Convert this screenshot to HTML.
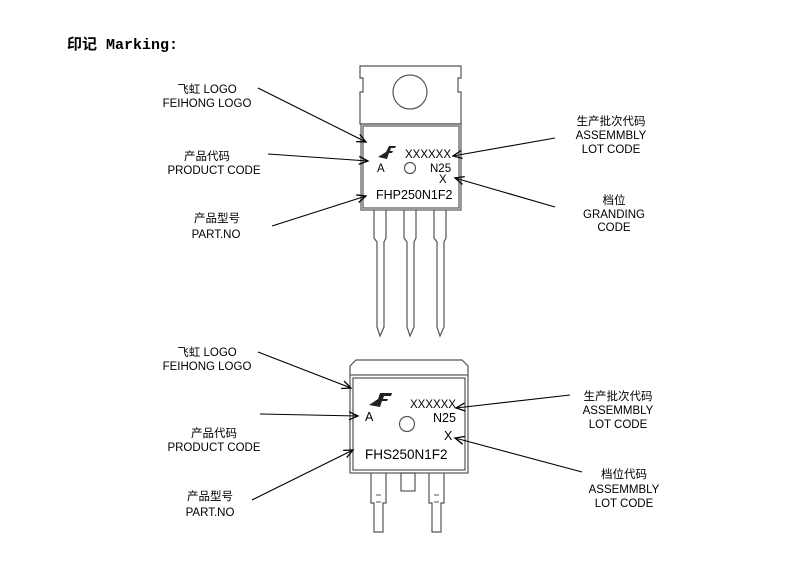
<!DOCTYPE html>
<html><head><style>
body{margin:0;background:#fff;width:812px;height:566px;overflow:hidden}
svg text{font-family:"Liberation Sans","Noto Sans CJK SC",sans-serif;font-size:11.5px;fill:#000}
</style></head><body>
<svg width="812" height="566" viewBox="0 0 812 566" xmlns="http://www.w3.org/2000/svg">
<defs><marker id="a" markerWidth="12" markerHeight="10" refX="10" refY="5" orient="auto" markerUnits="userSpaceOnUse"><path d="M1,1 L10,5 L1,9" fill="none" stroke="#000" stroke-width="1.3"/></marker></defs>
<text x="67" y="49" style="font-family:'Liberation Mono','Noto Sans CJK SC',monospace;font-size:15px;font-weight:bold">印记 Marking:</text>

<!-- TO-220 -->
<g fill="none" stroke="#555" stroke-width="1.2">
<path d="M360,66 H461 V78 H458 V92 H461 V124 H360 V92 H363 V78 H360 Z" fill="#fff"/>
<circle cx="410" cy="92" r="17"/>
<rect x="361" y="124" width="100" height="86"/>
<rect x="363" y="126" width="96" height="82"/>
<path d="M374,210 V238 L377,242 V327 L380,336 L384,327 V242 L386,238 V210"/>
<path d="M404,210 V238 L407,242 V327 L410,336 L414,327 V242 L416,238 V210"/>
<path d="M434,210 V238 L437,242 V327 L440,336 L444,327 V242 L446,238 V210"/>
<circle cx="410" cy="168" r="5.5"/>
</g>
<path d="M378,157 L386,152 L389,146 L396,146 L395,148 L391,148 L390,151 L393,151 L392,153 L389,153 L387,159 Z" fill="#222"/>
<text x="405" y="158">XXXXXX</text>
<text x="377" y="172">A</text>
<text x="430" y="172">N25</text>
<text x="439" y="183">X</text>
<text x="376" y="199" style="font-size:12.5px">FHP250N1F2</text>

<!-- D2PAK -->
<g fill="none" stroke="#555" stroke-width="1.2">
<path d="M350,375 V366 L356,360 H462 L468,366 V375"/>
<rect x="350" y="375" width="118" height="98"/>
<rect x="353" y="378" width="112" height="92"/>
<path d="M371,473 V503 H374 V532 H383 V503 H386 V473"/>
<path d="M429,473 V503 H432 V532 H441 V503 H444 V473"/>
<rect x="401" y="473" width="14" height="18"/>
<circle cx="407" cy="424" r="7.5"/>
</g>
<g stroke="#555" stroke-width="1"><path d="M376,495 H381 M376,502 H381 M434,495 H439 M434,502 H439"/></g>
<path d="M369,405 L378,399 L380,393 L392,393 L391,396 L384,396 L383,399 L388,399 L387,401 L382,401 L380,407 Z" fill="#222"/>
<text x="410" y="408">XXXXXX</text>
<text x="365" y="421" style="font-size:12.5px">A</text>
<text x="433" y="422" style="font-size:12.5px">N25</text>
<text x="444" y="440" style="font-size:12.5px">X</text>
<text x="365" y="459" style="font-size:13.5px">FHS250N1F2</text>

<!-- labels -->
<g text-anchor="middle">
<text x="207" y="93">飞虹 LOGO</text><text x="207" y="107">FEIHONG LOGO</text>
<text x="207" y="160">产品代码</text><text x="214" y="174">PRODUCT CODE</text>
<text x="217" y="222">产品型号</text><text x="216" y="238">PART.NO</text>
<text x="611" y="125">生产批次代码</text><text x="611" y="139">ASSEMMBLY</text><text x="611" y="153">LOT CODE</text>
<text x="614" y="204">档位</text><text x="614" y="218">GRANDING</text><text x="614" y="231">CODE</text>
<text x="207" y="356">飞虹 LOGO</text><text x="207" y="370">FEIHONG LOGO</text>
<text x="214" y="437">产品代码</text><text x="214" y="451">PRODUCT CODE</text>
<text x="210" y="500">产品型号</text><text x="210" y="516">PART.NO</text>
<text x="618" y="400">生产批次代码</text><text x="618" y="414">ASSEMMBLY</text><text x="618" y="428">LOT CODE</text>
<text x="624" y="478">档位代码</text><text x="624" y="493">ASSEMMBLY</text><text x="624" y="507">LOT CODE</text>
</g>
<g stroke="#000" stroke-width="1.1" marker-end="url(#a)">
<line x1="258" y1="88" x2="366" y2="142"/>
<line x1="268" y1="154" x2="368" y2="161"/>
<line x1="272" y1="226" x2="366" y2="196"/>
<line x1="555" y1="138" x2="453" y2="156"/>
<line x1="555" y1="207" x2="455" y2="178"/>
<line x1="258" y1="352" x2="351" y2="388"/>
<line x1="260" y1="414" x2="358" y2="416"/>
<line x1="252" y1="500" x2="353" y2="450"/>
<line x1="570" y1="395" x2="456" y2="408"/>
<line x1="582" y1="472" x2="455" y2="438"/>
</g>
</svg>
</body></html>
